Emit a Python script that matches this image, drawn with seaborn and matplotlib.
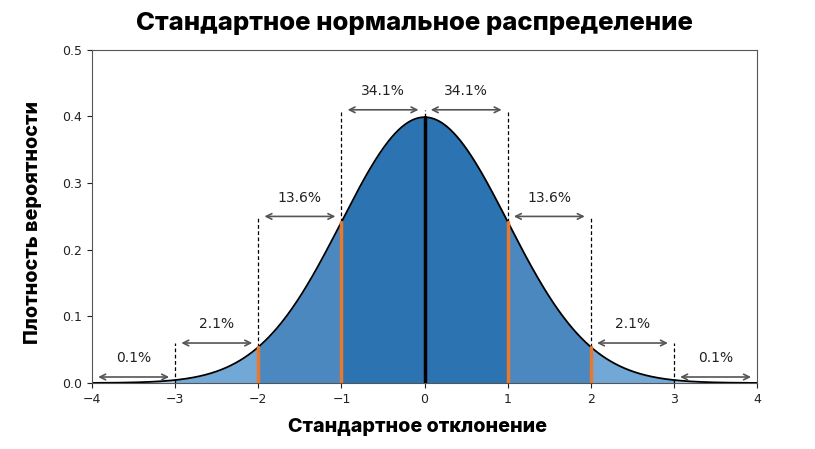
import numpy as np
import pandas as pd
import matplotlib
matplotlib.use("Agg")
import matplotlib.pyplot as plt
import seaborn as sns

sns.set_style("ticks")
plt.rcParams['font.family'] = ['DejaVu Sans']

# bands of the standard normal curve
edges = [-4, -3, -2, -1, 0, 1, 2, 3, 4]
band_colors = ['#a9cbe8', '#72a8d6', '#4a88bf', '#2c74b1', '#2c74b1', '#4a88bf', '#72a8d6', '#a9cbe8']
pct_labels = ['0.1%', '2.1%', '13.6%', '34.1%', '34.1%', '13.6%', '2.1%', '0.1%']
arrow_y = [0.009, 0.06, 0.25, 0.41, 0.41, 0.25, 0.06, 0.009]
text_y = [0.038, 0.088, 0.278, 0.438, 0.438, 0.278, 0.088, 0.038]
orange_at = [-2, -1, 1, 2]
dash_top = {-3: 0.06, -2: 0.25, -1: 0.41, 0: 0.41, 1: 0.41, 2: 0.25, 3: 0.06}

x = np.linspace(-4, 4, 801)
df = pd.DataFrame({'x': x, 'pdf': np.exp(-x ** 2 / 2) / np.sqrt(2 * np.pi)})

def pdf(v):
    return np.exp(-v ** 2 / 2) / np.sqrt(2 * np.pi)

fig = plt.figure(figsize=(8.15, 4.49), dpi=100)
ax = fig.add_axes([0.113, 0.147, 0.816, 0.742])

for i in range(len(edges) - 1):
    m = (df.x >= edges[i]) & (df.x <= edges[i + 1])
    ax.fill_between(df.x[m], 0, df.pdf[m], color=band_colors[i], lw=0)

sns.lineplot(data=df, x='x', y='pdf', ax=ax, color='black', lw=1.3)

for v, top in dash_top.items():
    bottom = 0 if abs(v) == 3 else pdf(v)
    ax.plot([v, v], [bottom, top], ls='--', color='black', lw=0.9, dashes=(3, 2))

for v in orange_at:
    ax.plot([v, v], [0, pdf(v)], color='#e8782e', lw=2.5)
ax.plot([0, 0], [0, pdf(0)], color='black', lw=2.5)

for i in range(len(edges) - 1):
    ax.annotate('', xy=(edges[i + 1] - 0.04, arrow_y[i]), xytext=(edges[i] + 0.04, arrow_y[i]),
                arrowprops=dict(arrowstyle='<->', color='#555555', lw=1.2))
    ax.text((edges[i] + edges[i + 1]) / 2, text_y[i], pct_labels[i], ha='center', va='center',
            fontsize=10, color='#222222')

ax.set_xlim(-4, 4)
ax.set_ylim(0, 0.5)
ax.set_xticks(range(-4, 5))
ax.set_yticks([0, 0.1, 0.2, 0.3, 0.4, 0.5])
ax.set_yticklabels(['0.0', '0.1', '0.2', '0.3', '0.4', '0.5'])
ax.tick_params(labelsize=9, colors='#222222', length=3.5)
for s in ax.spines.values():
    s.set_color('#555555')

ax.set_xlabel('Стандартное отклонение', fontsize=14.2, fontweight='heavy', family='Inter', color='black')
ax.set_ylabel('Плотность вероятности', fontsize=14.2, fontweight='heavy', family='Inter', color='black')
ax.xaxis.set_label_coords(0.489, -0.104)
ax.yaxis.set_label_coords(-0.076, 0.483)
fig.text(0.509, 0.948, 'Стандартное нормальное распределение', fontsize=18.5, fontweight='heavy',
         family='Inter', color='black', ha='center', va='center')

fig.savefig('out.png', dpi=100)
